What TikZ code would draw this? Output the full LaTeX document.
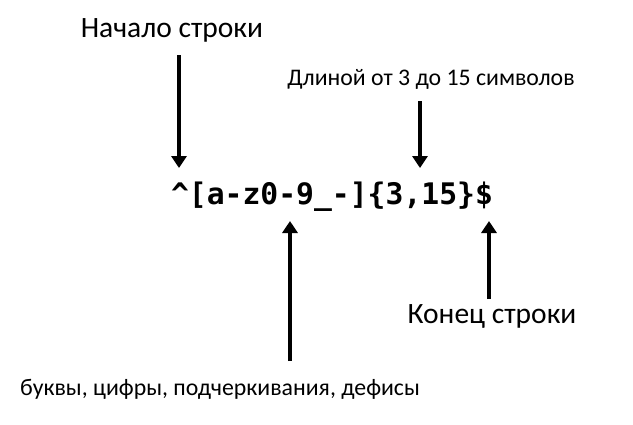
\documentclass[tikz,border=0pt]{standalone}
\usepackage{fontspec}
\setmainfont{Carlito}
\newfontfamily\codefont{DejaVu Sans Mono}
\usetikzlibrary{arrows.meta}

\begin{document}
\begin{tikzpicture}[x=1pt,y=-1pt,
		lbl/.style={inner sep=0pt, font=\fontsize{29.5}{29.5}\selectfont},
		smalllbl/.style={inner sep=0pt, font=\fontsize{23.8}{23.8}\selectfont},
		pointer/.style={line width=4pt, -{Triangle[length=12pt,width=15pt]}}]
				\useasboundingbox (0,0) rectangle (633,424);
				% code line
				\node[inner sep=0pt] (regex) at (332,197) {\codefont\bfseries\fontsize{29.7}{29.7}\selectfont \^{}[a-z0-9\_-]\{3,15\}\$};
				% labels
				\node[lbl] (start) at (172,30) {Начало строки};
				\node[smalllbl] (len) at (431,79) {Длиной от 3 до 15 символов};
				\node[lbl] (finish) at (492,316) {Конец строки};
				\node[smalllbl] (chars) at (220,389) {буквы, цифры, подчеркивания, дефисы};
				% arrow ends
				\coordinate (a1) at (179,55);	\coordinate (b1) at (179,168);
				\coordinate (a2) at (420,101);	\coordinate (b2) at (420,168);
				\coordinate (a3) at (290,361);	\coordinate (b3) at (290,221);
				\coordinate (a4) at (489,299);	\coordinate (b4) at (489,221);
				\foreach \i in {1,...,4}
				\draw[pointer] (a\i) -- (b\i);
			\end{tikzpicture}
\end{document}
